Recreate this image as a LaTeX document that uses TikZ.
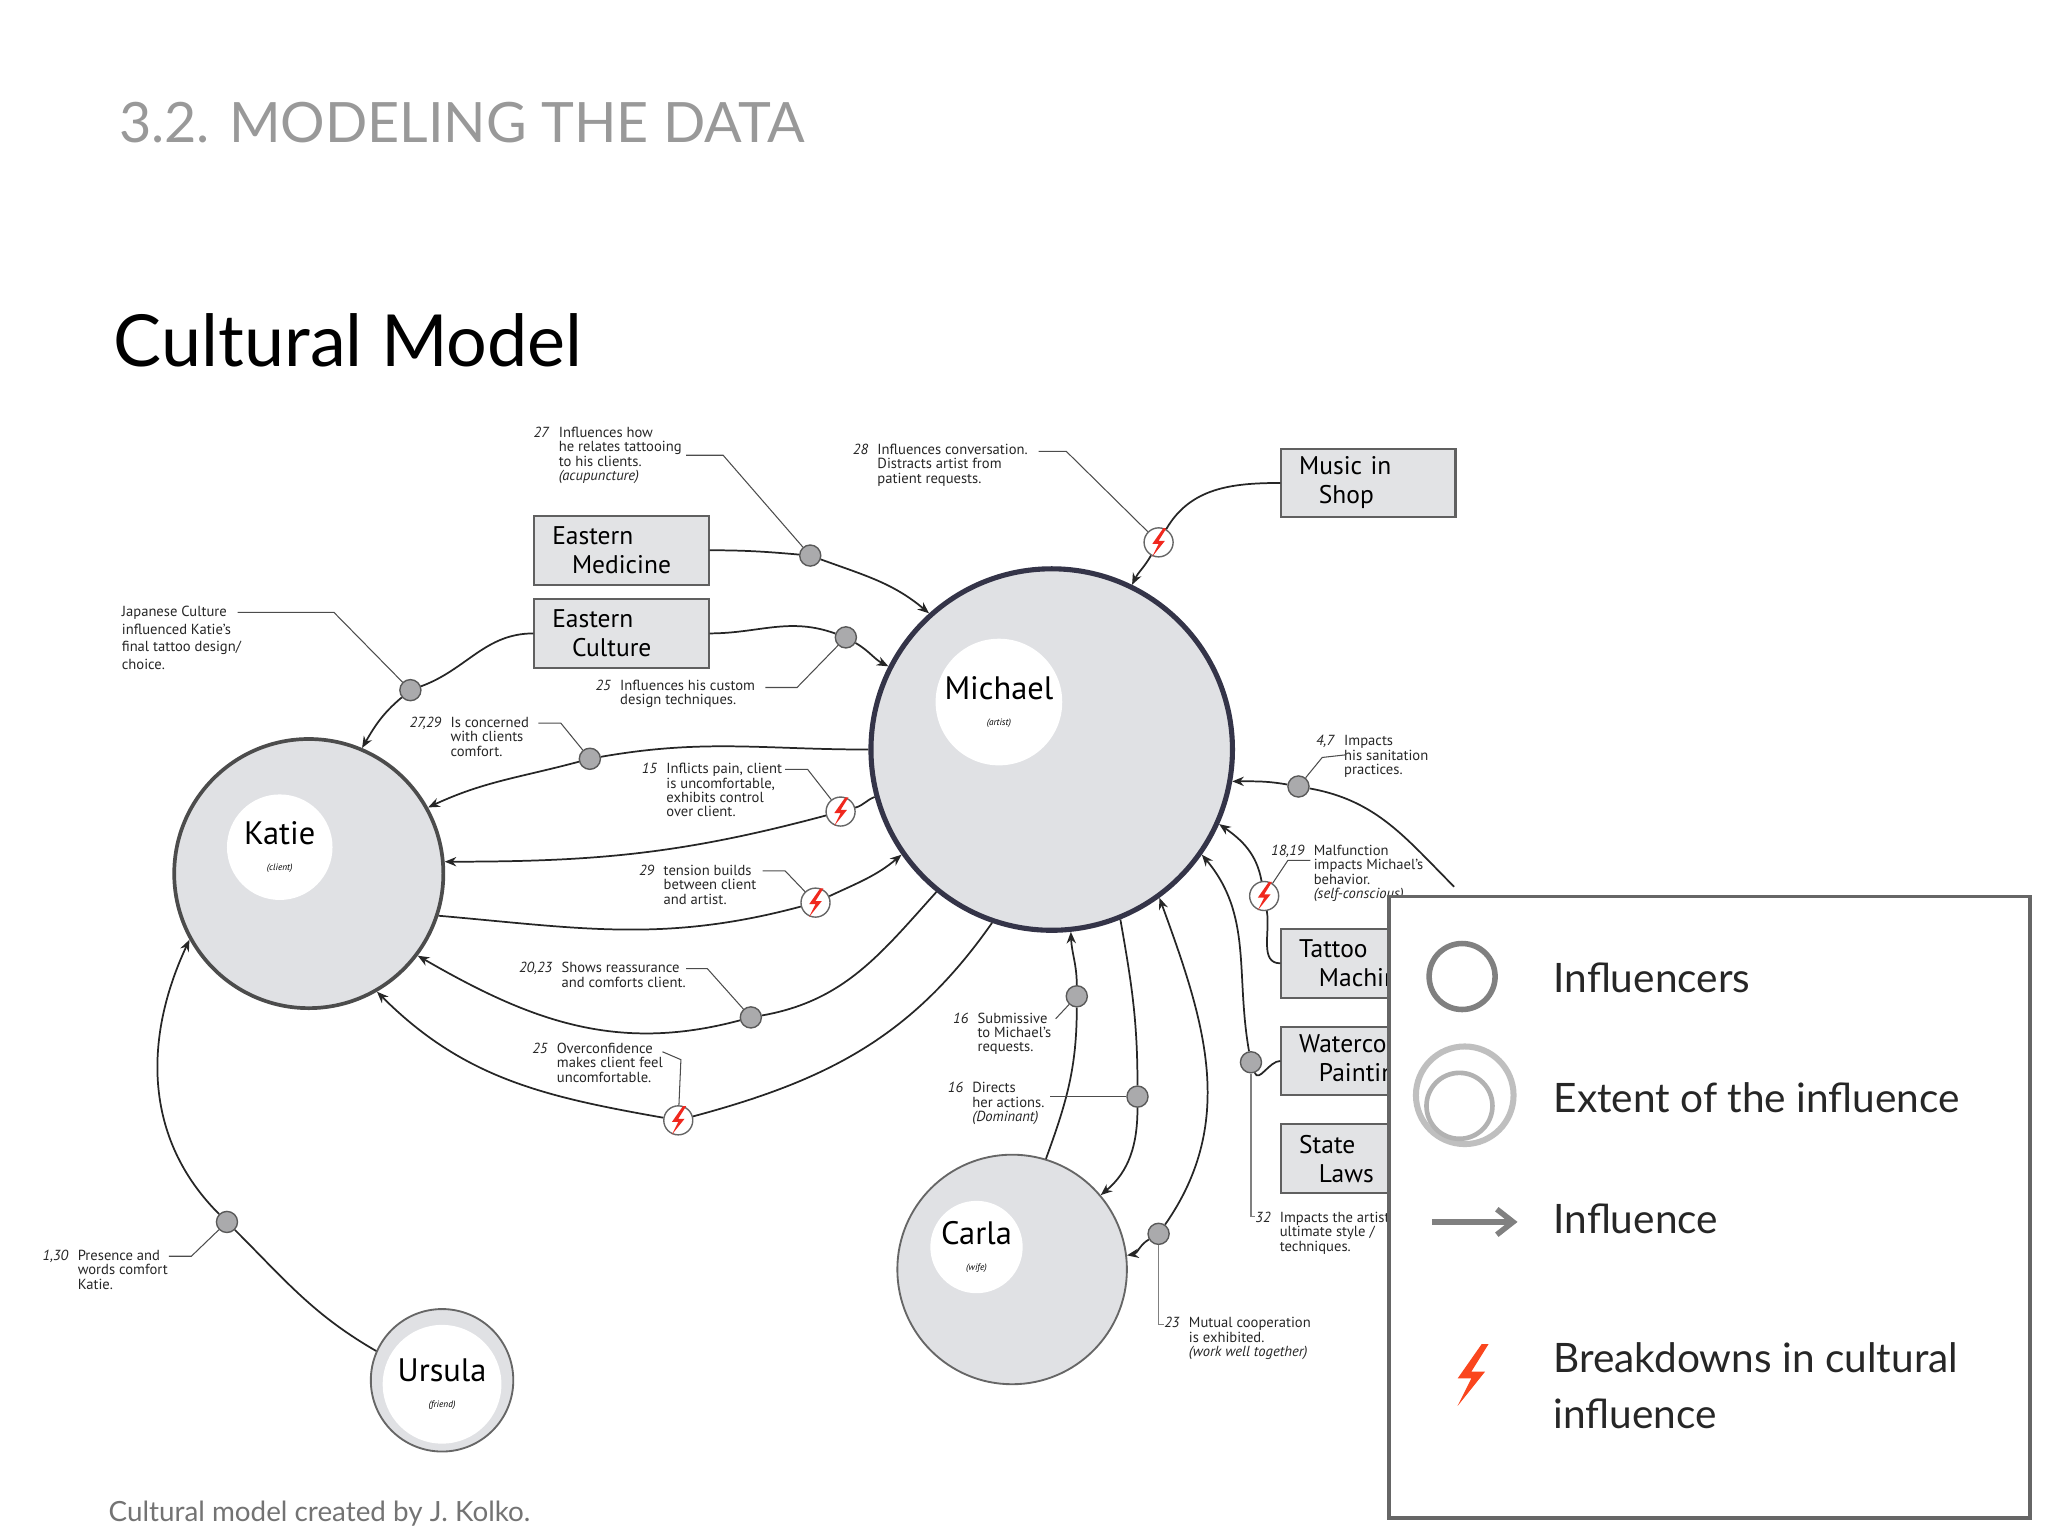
\documentclass[tikz,border=0pt]{standalone}
\usepackage{fontspec}
\setmainfont{PT Sans}
\newfontfamily\gill{Lato}
\usetikzlibrary{arrows.meta}
\definecolor{cfill}{RGB}{224,225,228}
\definecolor{bfill}{RGB}{226,227,229}
\definecolor{dotc}{RGB}{170,170,172}
\definecolor{navy}{RGB}{52,52,72}
\definecolor{boltred}{RGB}{240,40,30}
\definecolor{legred}{RGB}{250,70,30}
\newcommand\zap[3][boltred]{\fill[#1,shift={(#2)},scale=#3] (3,-9) -- (-4,1) -- (0,1) -- (-4,9) -- (4,-1) -- (0,-1) -- (5,-9) -- cycle;}
\newcommand\ann[2]{\fontsize{6.3}{7.6}\selectfont\def\arraystretch{0.78}\begin{tabular}{@{}r@{\hspace{4pt}}l@{}}\textit{#1} & #2\end{tabular}}
\tikzset{
  x=0.02cm,y=-0.02cm,
  person/.style={circle,fill=cfill,draw=gray!80!black,line width=0.8pt,inner sep=0},
  inner/.style={circle,fill=white,inner sep=0,align=center,font=\fontsize{14}{14}\selectfont},
  box/.style={rectangle,fill=bfill,draw=gray!75!black,line width=0.9pt,minimum width=2.64cm,minimum height=1.04cm,align=left,font=\fontsize{11}{12.5}\selectfont,text width=2.1cm},
  dot/.style={circle,fill=dotc,draw=black!65,line width=0.6pt,minimum size=0.32cm,inner sep=0},
  bolt/.style={circle,fill=white,draw=black!60,line width=0.6pt,minimum size=0.44cm,inner sep=0},
  con/.style={line width=0.75pt,black!85},
  arr/.style={con,-{Stealth[length=5pt,width=4pt]}},
  lead/.style={line width=0.45pt,black!70},
  note/.style={anchor=north west,inner sep=0,text=black!85},
}
\begin{document}
\begin{tikzpicture}
\useasboundingbox (0,0) rectangle (1552,1164);
\node[anchor=base west,inner sep=0,text=black!40,font=\gill\fontsize{24}{24}\selectfont] at (90,108) {3.2. MODELING THE DATA};
\node[anchor=base west,inner sep=0,font=\gill\fontsize{31}{31}\selectfont] at (86,278) {Cultural Model};
\node[anchor=base west,inner sep=0,text=black!55,font=\gill\fontsize{12}{12}\selectfont] at (82,1153) {Cultural model created by J. Kolko.};

% persons
\node[person,draw=navy,line width=2.2pt,minimum size=5.48cm] (M) at (797,568) {};
\node[inner,minimum size=1.92cm] at (757,532) {Michael\\[-3pt]{\fontsize{4}{4}\selectfont\itshape(artist)}};
\node[person,draw=black!70,line width=1.6pt,minimum size=4.08cm] (K) at (234,662) {};
\node[inner,minimum size=1.6cm] at (212,642) {Katie\\[-3pt]{\fontsize{4}{4}\selectfont\itshape(client)}};
\node[person,minimum size=3.48cm] (C) at (767,962) {};
\node[inner,minimum size=1.4cm] at (740,945) {Carla\\[-3pt]{\fontsize{4}{4}\selectfont\itshape(wife)}};
\node[person,minimum size=2.16cm] (U) at (335,1046) {};
\node[inner,minimum size=1.8cm] at (335,1049) {Ursula\\[-3pt]{\fontsize{4}{4}\selectfont\itshape(friend)}};

% boxes
\node[box] (EM) at (471,417) {Eastern\\\hspace*{0.3cm}Medicine};
\node[box] (EC) at (471,480) {Eastern\\\hspace*{0.3cm}Culture};
\node[box] (MS) at (1037,366) {Music in\\\hspace*{0.3cm}Shop};
\node[box] (TM) at (1037,730) {Tattoo\\\hspace*{0.3cm}Machines};
\node[box] (WP) at (1037,804) {Watercolor\\\hspace*{0.3cm}Painting};
\node[box] (SL) at (1037,878) {State\\\hspace*{0.3cm}Laws};

% hubs
\node[dot] (D1) at (614,421) {};
\node[dot] (D2) at (641,483) {};
\node[bolt] (B3) at (878,411) {};
\node[dot] (D4) at (311,523) {};
\node[dot] (D5) at (447,575) {};
\node[bolt] (B6) at (637,615) {};
\node[bolt] (B7) at (618,684) {};
\node[dot] (D8) at (569,771) {};
\node[bolt] (B9) at (514,849) {};
\node[dot] (D10) at (172,926) {};
\node[dot] (D11) at (816,755) {};
\node[dot] (D12) at (862,831) {};
\node[dot] (D13) at (878,935) {};
\coordinate (S14) at (1102,672);
\node[dot] (D14) at (984,596) {};
\node[bolt] (B15) at (958,679) {};
\node[dot] (D16) at (948,805) {};
\foreach \b in {B3,B6,B7,B9,B15} {\zap{\b.center}{1.2}}

% connectors
\draw[con] (EM.east) to[out=0,in=175] (D1);
\draw[arr] (D1) to[out=-20,in=140] (M.132);
\draw[con] (EC.east) to[out=0,in=160] (D2);
\draw[arr] (D2) to[out=-30,in=153] (M.153);
\draw[con] (MS.west) to[out=180,in=60] (B3);
\draw[arr] (B3) to[out=240,in=64] (M.64);
\draw[con] (EC.west) to[out=180,in=20] (D4);
\draw[arr] (D4) to[out=220,in=60] (K.67);
\draw[con] (M.180) to[out=180,in=10] (D5);
\draw[arr] (D5) to[out=195,in=25] (K.29);
\draw[con] (M.195) to[out=200,in=15] (B6);
\draw[arr] (B6) to[out=195,in=0] (K.5);
\draw[con] (K.342) to[out=-5,in=195] (B7);
\draw[arr] (B7) to[out=25,in=220] (M.215);
\draw[con] (M.231) to[out=228,in=10] (D8);
\draw[arr] (D8) to[out=195,in=-30] (K.323);
\draw[con] (M.251) to[out=235,in=15] (B9);
\draw[arr] (B9) to[out=170,in=-45] (K.300);
\draw[con] (U.156) to[out=150,in=-45] (D10);
\draw[arr] (D10) to[out=135,in=245] (K.209);
\draw[con] (C.73) to[out=70,in=270] (D11);
\draw[arr] (D11) to[out=90,in=-88] (M.276);
\draw[con] (M.292) to[out=-80,in=90] (D12);
\draw[arr] (D12) to[out=-90,in=40] (C.40);
\draw[arr] (D13) to[out=210,in=10] (C.7);
\draw[arr] (D13) to[out=55,in=-70] (M.306);
\draw[con] (S14) to[out=135,in=-10] (D14);
\draw[arr] (D14) to[out=170,in=0] (M.350);
\draw[con] (TM.west) to[out=180,in=-80] (B15);
\draw[arr] (B15) to[out=100,in=-35] (M.336);
\draw[con] (WP.west) to[out=180,in=-70] (D16);
\draw[arr] (D16) to[out=100,in=-50] (M.325);

% annotations
\node[note] (N1) at (404,323) {\ann{27}{Influences how\\ & he relates tattooing\\ & to his clients.\\ & \textit{(acupuncture)}}};
\draw[lead] (520,345) -- (548,345) -- (D1);
\node[note] (N2) at (451,515) {\ann{25}{Influences his custom\\ & design techniques.}};
\draw[lead] (580,521) -- (604,521) -- (D2);
\node[note] (N3) at (646,336) {\ann{28}{Influences conversation.\\ & Distracts artist from\\ & patient requests.}};
\draw[lead] (787,342) -- (808,342) -- (B3);
\node[note,align=left,font=\fontsize{6.3}{7.6}\selectfont] (N4) at (92,459) {Japanese Culture\\influenced Katie's\\final tattoo design/\\choice.};
\draw[lead] (180,464) -- (253,464) -- (D4);
\node[note] (N5) at (310,543) {\ann{27,29}{Is concerned\\ & with clients\\ & comfort.}};
\draw[lead] (408,548) -- (425,548) -- (D5);
\node[note] (N6) at (486,578) {\ann{15}{Inflicts pain, client\\ & is uncomfortable,\\ & exhibits control\\ & over client.}};
\draw[lead] (595,583) -- (612,583) -- (B6);
\node[note] (N7) at (484,655) {\ann{29}{tension builds\\ & between client\\ & and artist.}};
\draw[lead] (578,660) -- (595,660) -- (B7);
\node[note] (N8) at (393,729) {\ann{20,23}{Shows reassurance\\ & and comforts client.}};
\draw[lead] (520,734) -- (536,734) -- (D8);
\node[note] (N9) at (403,790) {\ann{25}{Overconfidence\\ & makes client feel\\ & uncomfortable.}};
\draw[lead] (502,797) -- (516,803) -- (B9);
\node[note] (N10) at (32,947) {\ann{1,30}{Presence and\\ & words comfort\\ & Katie.}};
\draw[lead] (128,952) -- (145,952) -- (D10);
\node[note] (N11) at (722,767) {\ann{16}{Submissive\\ & to Michael's\\ & requests.}};
\draw[lead] (800,772) -- (D11);
\node[note] (N12) at (718,820) {\ann{16}{Directs\\ & her actions.\\ & \textit{(Dominant)}}};
\draw[lead] (796,831) -- (D12);
\node[note] (N13) at (882,998) {\ann{23}{Mutual cooperation\\ & is exhibited.\\ & \textit{(work well together)}}};
\draw[lead,black!50] (D13) -- (878,1004) -- (882,1004);
\node[note] (N14) at (997,557) {\ann{4,7}{Impacts\\ & his sanitation\\ & practices.}};
\draw[lead] (1020,572) -- (1002,574) -- (D14);
\node[note] (N15) at (963,640) {\ann{18,19}{Malfunction\\ & impacts Michael's\\ & behavior.\\ & \textit{(self-conscious)}}};
\draw[lead] (993,652) -- (976,652) -- (B15);
\node[note] (N16) at (951,918) {\ann{32}{Impacts the artist's\\ & ultimate style /\\ & techniques.}};
\draw[lead,black!50] (D16) -- (948,922) -- (951,922);

% legend
\node[rectangle,draw=black!60,line width=1.6pt,fill=white,minimum width=9.72cm,minimum height=9.42cm,anchor=north west] (L) at (1051,678) {};
\node[circle,draw=black!50,line width=2.4pt,minimum size=1.0cm,inner sep=0] (L1) at (1108,740) {};
\node[circle,draw=black!25,line width=2.6pt,minimum size=1.48cm,inner sep=0] (L2) at (1110,830) {};
\node[circle,draw=black!30,line width=2pt,minimum size=1.0cm,inner sep=0] (L2b) at (1106,838) {};
\coordinate (A1) at (1085,926);
\coordinate (A2) at (1150,926);
\draw[line width=2.4pt,black!50,-{Straight Barb[length=7pt,width=11pt]}] (A1) -- (A2);
\coordinate (Z) at (1115,1042);
\zap[legred]{Z}{2.6}
\begin{scope}[every node/.style={anchor=west,inner sep=0,font=\gill\fontsize{17.5}{24}\selectfont,text=black!85}]
\node (T1) at (1177,741) {Influencers};
\node (T2) at (1177,832) {Extent of the influence};
\node (T3) at (1177,924) {Influence};
\node[align=left] (T4) at (1177,1050) {Breakdowns in cultural\\influence};
\end{scope}
\end{tikzpicture}
\end{document}
